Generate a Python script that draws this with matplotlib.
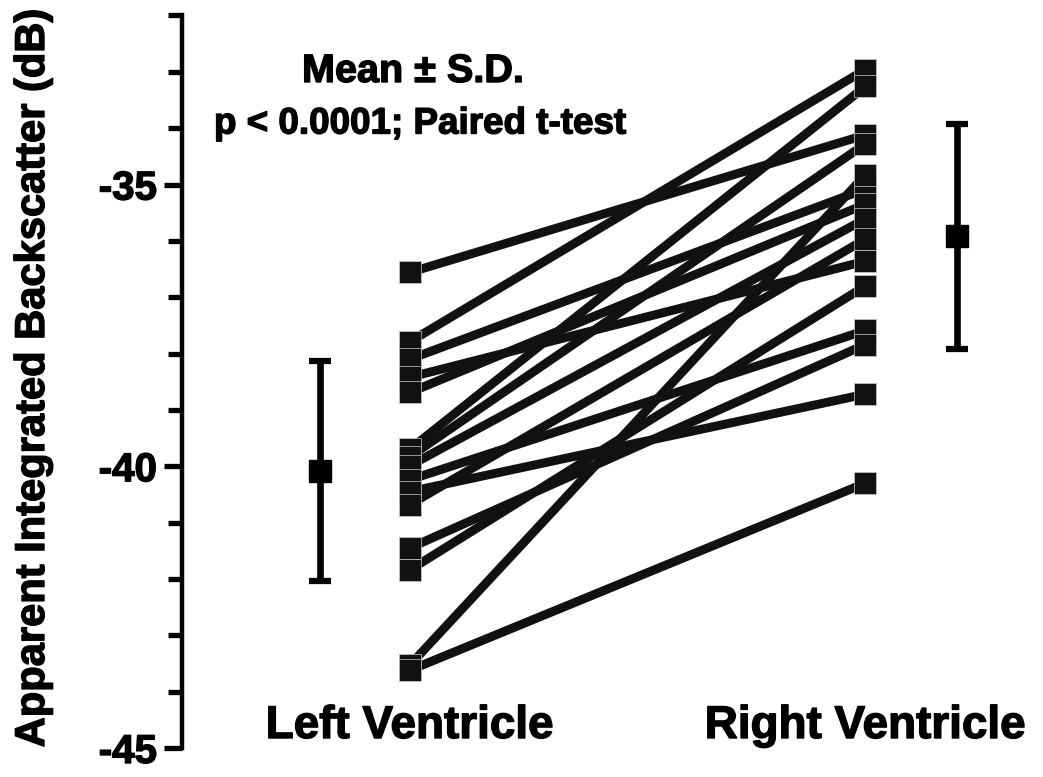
import matplotlib
matplotlib.use("Agg")
import matplotlib.pyplot as plt
from matplotlib.transforms import blended_transform_factory
import matplotlib.patheffects as pe
import numpy as np

# ---- data (dB) ----
categories = ["Left Ventricle", "Right Ventricle"]
lv_values = [-36.56, -37.79, -38.10, -38.42, -38.69, -39.70, -39.83, -39.99,
             -40.24, -40.45, -40.68, -41.45, -41.84, -43.53, -43.62]
rv_values = [-34.12, -32.96, -35.08, -36.36, -35.35, -33.26, -34.28, -35.61,
             -37.59, -38.72, -35.97, -37.84, -36.80, -34.83, -40.30]
mean_values = [-40.08, -35.92]
sd_values = [1.95, 1.99]
ytick_major = [-45, -40, -35]
ytick_labels = ["-45", "-40", "-35"]
title_line1 = "Mean ± S.D."
title_line2 = "p < 0.0001; Paired t-test"
ylabel = "Apparent Integrated Backscatter (dB)"

plt.rcParams['font.family'] = ['Liberation Sans', 'DejaVu Sans']
plt.rcParams['font.weight'] = 'bold'

W, H = 1043, 777
fig = plt.figure(figsize=(W / 100, H / 100), dpi=100)
ax = fig.add_axes([182 / W, (H - 748) / H, 1 - 182 / W, (748 - 15.5) / H])

heavy = [pe.withStroke(linewidth=1.0, foreground='black')]

pos = [1, 2]
mean_pos = [0.802, 2.202]
dark = "#111111"

for a, b in zip(lv_values, rv_values):
    ax.plot(pos, [a, b], color=dark, lw=6.4, solid_capstyle='butt', zorder=2)
ax.plot([pos[0]] * len(lv_values), lv_values, ls='none', marker='s', ms=16,
        color=dark, mec='#cccccc', mew=0.5, zorder=3)
ax.plot([pos[1]] * len(rv_values), rv_values, ls='none', marker='s', ms=16,
        color=dark, mec='#cccccc', mew=0.5, zorder=3)

ax.errorbar(mean_pos, mean_values, yerr=sd_values, fmt='s', ms=16.5, color='black',
            ecolor='black', elinewidth=4.8, capsize=8, capthick=4.5, zorder=4)

ax.set_xlim(0.5, 2.39)
ax.set_ylim(-45, -32)
for s in ['top', 'right', 'bottom']:
    ax.spines[s].set_visible(False)
ax.spines['left'].set_linewidth(3.2)
ax.spines['left'].set_bounds(-45, -32)
ax.set_xticks([])
ax.set_yticks(ytick_major)
ax.set_yticklabels(ytick_labels, fontsize=29, fontweight='bold')
for t in ax.get_yticklabels():
    t.set_path_effects(heavy)
ax.set_yticks(np.arange(-44, -31, 1), minor=True)
ax.tick_params(axis='y', which='major', length=13, width=3.8, pad=5)
ax.tick_params(axis='y', which='minor', length=10, width=3.8)

tr = blended_transform_factory(ax.transData, fig.transFigure)
for p, c in zip(pos, categories):
    ax.text(p, (H - 726) / H, c, transform=tr, ha='center', va='center',
            fontsize=33, fontweight='bold', clip_on=False, path_effects=heavy)

fig.text(413 / W, (H - 71) / H, title_line1, ha='center', va='center',
         fontsize=28.5, fontweight='bold', path_effects=heavy)
fig.text(420 / W, (H - 124) / H, title_line2, ha='center', va='center',
         fontsize=26.5, fontweight='bold', path_effects=heavy)
fig.text(33 / W, (H - 378) / H, ylabel, rotation=90, ha='center', va='center',
         fontsize=30, fontweight='bold', path_effects=heavy)

fig.savefig("out.png", dpi=100)
